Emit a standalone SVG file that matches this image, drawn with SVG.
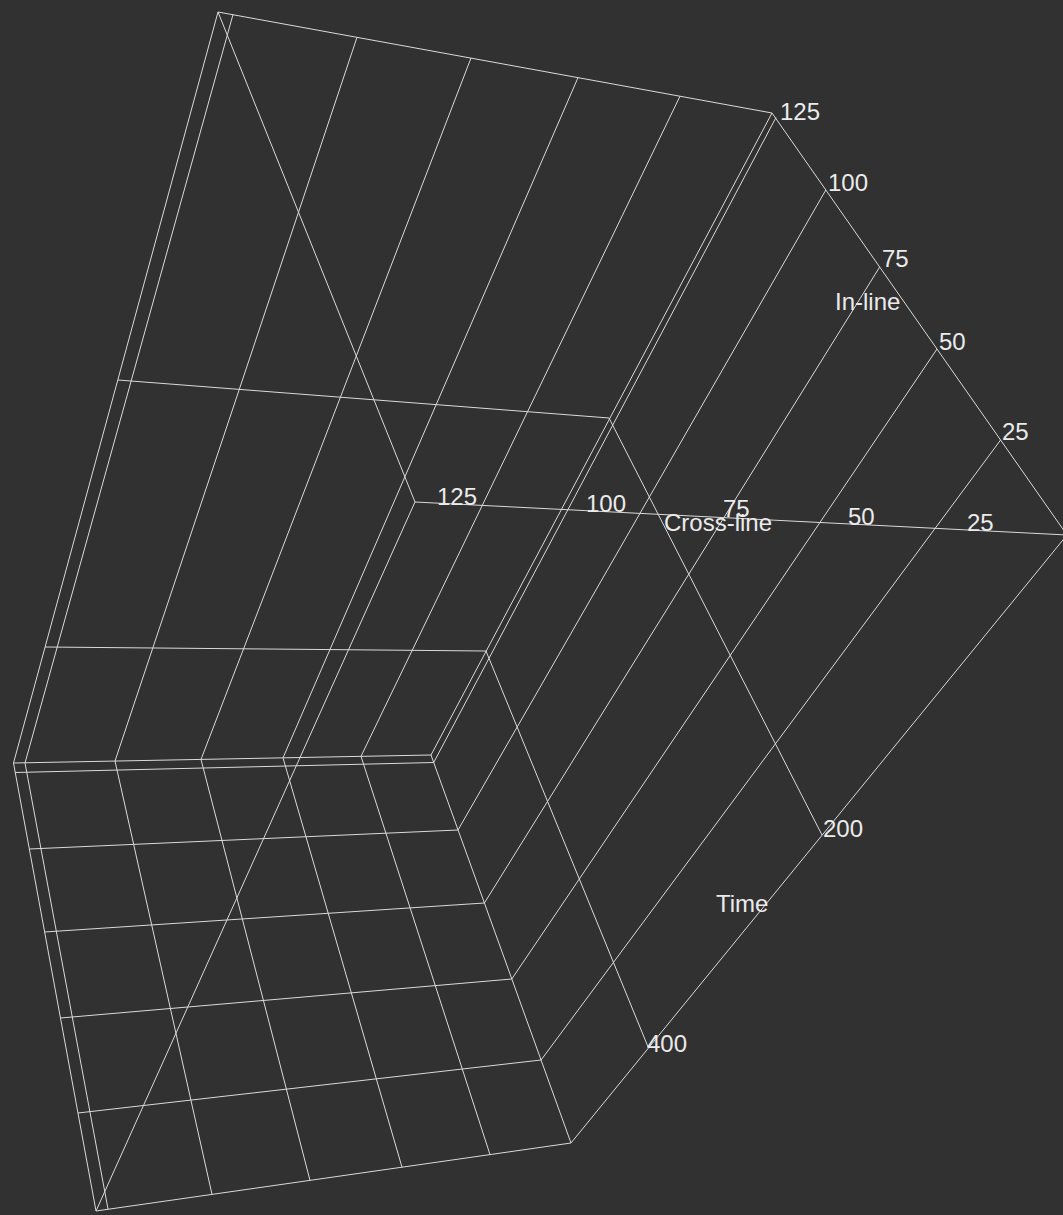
<svg xmlns="http://www.w3.org/2000/svg" width="1063" height="1215" viewBox="0 0 1063 1215">
<style>
.ln{stroke:#dadada;stroke-width:1;fill:none}
.lb{font-family:"Liberation Sans",Arial,sans-serif;font-size:24px;fill:#ebebeb}
</style>
<rect x="0" y="0" width="1063" height="1215" fill="#313131"/>
<g id="connectors">
<g id="box-edges">
<path class="ln" d="M218,12 L772,113 L1067,535 L415,502 Z"/>
<path class="ln" d="M218,12 L13.5,763 M772,113 L431,755 M1067,535 L571,1143 M415,502 L96,1211"/>
<path class="ln" d="M13.5,763 L431,755 L571,1143 L96,1211 Z"/>
</g>
<g id="inline-wall-grid">
<path class="ln" d="M233,14.5 L25,763 M357,37.3 L115,761 M471,58 L201,759.4 M578,77.6 L283,757.8 M680,96.2 L361,756.3"/>
<path class="ln" d="M118,380 L609,418 M45,647 L486,651"/>
</g>
<g id="crossline-wall-grid">
<path class="ln" d="M776,117.5 L433.7,762.5 M825.8,190 L458,830 M879.7,267 L484.4,903 M937,349 L511.8,979 M1000.6,440 L541.1,1060"/>
<path class="ln" d="M609,418 L822,835 M486,651 L648.5,1048"/>
</g>
<g id="time-floor-grid">
<path class="ln" d="M25,763 L108,1209 M115,761 L212,1194.4 M201,759.4 L310,1180.4 M283,757.8 L402,1167.2 M361,756.3 L490,1154.6"/>
<path class="ln" d="M15.2,772.5 L433.7,762.5 M29.3,849 L458,830 M44.6,932 L484.4,903 M60.5,1018 L511.8,979 M78,1113 L541.1,1060"/>
</g>
</g>
<g id="inline-axis">
<text class="lb" x="780" y="120">125</text>
<text class="lb" x="828" y="191">100</text>
<text class="lb" x="882" y="267">75</text>
<text class="lb" x="835" y="310">In-line</text>
<text class="lb" x="939" y="350">50</text>
<text class="lb" x="1002" y="440">25</text>
</g>
<g id="crossline-axis">
<text class="lb" x="437" y="505">125</text>
<text class="lb" x="586" y="512">100</text>
<text class="lb" x="723" y="517">75</text>
<text class="lb" x="664" y="531">Cross-line</text>
<text class="lb" x="848" y="525">50</text>
<text class="lb" x="967" y="531">25</text>
</g>
<g id="time-axis">
<text class="lb" x="823" y="837">200</text>
<text class="lb" x="647" y="1052">400</text>
<text class="lb" x="716" y="912">Time</text>
</g>
</svg>
